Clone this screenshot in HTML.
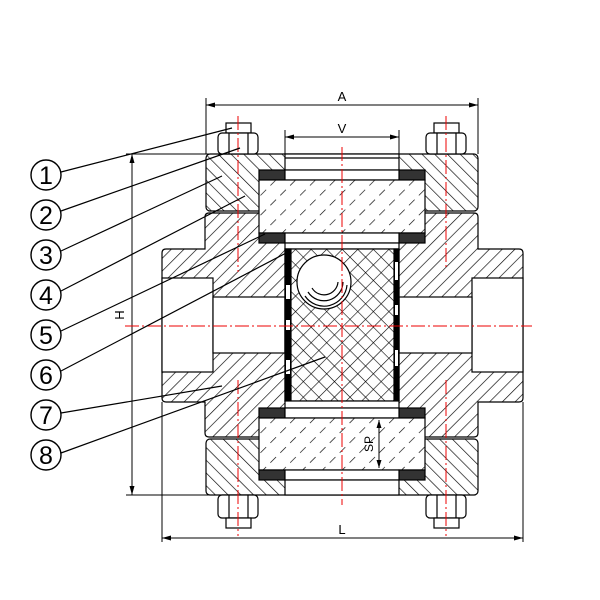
<!DOCTYPE html>
<html><head><meta charset="utf-8"><style>body{margin:0;background:#fff}svg{display:block}</style></head><body>
<svg width="600" height="600" viewBox="0 0 600 600" xmlns="http://www.w3.org/2000/svg" font-family="Liberation Sans, sans-serif">
<defs>
<pattern id="hb" width="9" height="9" patternUnits="userSpaceOnUse" patternTransform="rotate(45)"><rect width="9" height="9" fill="#fff"/><line x1="0" y1="0" x2="0" y2="9" stroke="#000" stroke-width="1.3"/></pattern>
<pattern id="hf" width="9" height="9" patternUnits="userSpaceOnUse" patternTransform="rotate(-45)"><rect width="9" height="9" fill="#fff"/><line x1="0" y1="0" x2="0" y2="9" stroke="#000" stroke-width="1.3"/></pattern>
<pattern id="hx" width="11" height="11" patternUnits="userSpaceOnUse" patternTransform="rotate(45)"><rect width="11" height="11" fill="#fff"/><line x1="0" y1="0" x2="0" y2="11" stroke="#000" stroke-width="1.2"/><line x1="0" y1="0" x2="11" y2="0" stroke="#000" stroke-width="1.2"/></pattern>
<pattern id="hg" width="14" height="14" patternUnits="userSpaceOnUse" patternTransform="rotate(45)"><rect width="14" height="14" fill="#fff"/><line x1="0" y1="2" x2="0" y2="10" stroke="#000" stroke-width="1.3"/></pattern>
</defs>
<g stroke="#000" stroke-width="1.2">
<!-- body -->
<path d="M209,213 H474 Q478,213 478,217 V249 H519 Q523,249 523,253 V398 Q523,402 519,402 H478 V433 Q478,437 474,437 H209 Q205,437 205,433 V402 H166 Q162,402 162,398 V253 Q162,249 166,249 H205 V217 Q205,213 209,213 Z" fill="url(#hb)"/>
<!-- bores -->
<rect x="162" y="278" width="51" height="94" fill="#fff"/>
<rect x="213" y="297" width="72" height="56" fill="#fff"/>
<rect x="472" y="278" width="51" height="94" fill="#fff"/>
<rect x="399" y="297" width="73" height="56" fill="#fff"/>
<!-- flanges -->
<rect x="206" y="154" width="272" height="57" rx="4" fill="url(#hf)"/>
<rect x="206" y="439" width="272" height="56" rx="4" fill="url(#hf)"/>
<!-- top glass assembly -->
<rect x="285" y="154" width="114" height="16" fill="#fff"/>
<line x1="285" y1="158" x2="399" y2="158"/>
<rect x="259" y="170" width="26" height="10" fill="#333"/>
<rect x="399" y="170" width="26" height="10" fill="#333"/>
<rect x="285" y="170" width="114" height="10" fill="#fff"/>
<rect x="259" y="180" width="166" height="53" fill="url(#hg)"/>
<rect x="259" y="233" width="26" height="10" fill="#333"/>
<rect x="399" y="233" width="26" height="10" fill="#333"/>
<rect x="285" y="233" width="114" height="10" fill="#fff"/>
<rect x="285" y="243" width="114" height="6" fill="#fff"/>
<!-- chamber -->
<rect x="285" y="249" width="114" height="152" fill="url(#hx)"/>
<rect x="285" y="249" width="6" height="152" fill="#000"/>
<rect x="394" y="249" width="5" height="152" fill="#000"/>
<g fill="#fff" stroke="none"><rect x="286" y="285" width="4" height="14"/><rect x="286" y="320" width="4" height="10"/><rect x="286" y="360" width="4" height="14"/><rect x="395" y="262" width="3" height="18"/><rect x="395" y="305" width="3" height="10"/><rect x="395" y="350" width="3" height="16"/></g>
<circle cx="324" cy="282" r="27" fill="#fff"/>
<path d="M338,282 A14,14 0 0 1 312,288" fill="none"/>
<path d="M343,282 A19,19 0 0 1 308,292" fill="none"/>
<path d="M347,285 A23,23 0 0 1 305,296" fill="none"/>
<!-- bottom glass assembly -->
<rect x="285" y="401" width="114" height="7" fill="#fff"/>
<rect x="259" y="408" width="26" height="10" fill="#333"/>
<rect x="399" y="408" width="26" height="10" fill="#333"/>
<rect x="285" y="408" width="114" height="10" fill="#fff"/>
<rect x="259" y="418" width="166" height="52" fill="url(#hg)"/>
<rect x="259" y="470" width="26" height="10" fill="#333"/>
<rect x="399" y="470" width="26" height="10" fill="#333"/>
<rect x="285" y="470" width="114" height="10" fill="#fff"/>
<rect x="285" y="480" width="114" height="15" fill="#fff"/>
<!-- nuts -->
<g fill="#fff">
<rect x="226" y="123" width="25" height="10"/><rect x="218" y="133" width="40" height="21" rx="4"/><line x1="229" y1="133" x2="229" y2="154"/><line x1="248" y1="133" x2="248" y2="154"/>
<rect x="434" y="123" width="25" height="10"/><rect x="426" y="133" width="40" height="21" rx="4"/><line x1="437" y1="133" x2="437" y2="154"/><line x1="456" y1="133" x2="456" y2="154"/>
<rect x="218" y="495" width="40" height="23" rx="4"/><rect x="226" y="518" width="25" height="10"/><line x1="229" y1="495" x2="229" y2="518"/><line x1="248" y1="495" x2="248" y2="518"/>
<rect x="426" y="495" width="40" height="23" rx="4"/><rect x="434" y="518" width="25" height="10"/><line x1="437" y1="495" x2="437" y2="518"/><line x1="456" y1="495" x2="456" y2="518"/>
</g>
</g>
<!-- dimensions -->
<g stroke="#000" stroke-width="1" fill="none">
<line x1="206" y1="98" x2="206" y2="154"/><line x1="478" y1="98" x2="478" y2="154"/><line x1="206" y1="105" x2="478" y2="105"/>
<line x1="285" y1="130" x2="285" y2="154"/><line x1="399" y1="130" x2="399" y2="154"/><line x1="285" y1="137" x2="399" y2="137"/>
<line x1="162" y1="402" x2="162" y2="542"/><line x1="523" y1="402" x2="523" y2="542"/><line x1="162" y1="538" x2="523" y2="538"/>
<line x1="126" y1="154" x2="218" y2="154"/><line x1="126" y1="495" x2="218" y2="495"/><line x1="132" y1="154" x2="132" y2="495"/>
<line x1="379" y1="420" x2="379" y2="468"/>
</g>
<g fill="#000">
<path d="M206,105 l9,-2.5 v5z"/><path d="M478,105 l-9,-2.5 v5z"/>
<path d="M285,137 l9,-2.5 v5z"/><path d="M399,137 l-9,-2.5 v5z"/>
<path d="M162,538 l9,-2.5 v5z"/><path d="M523,538 l-9,-2.5 v5z"/>
<path d="M132,154 l-2.5,9 h5z"/><path d="M132,495 l-2.5,-9 h5z"/>
<path d="M379,420 l-2.5,8 h5z"/><path d="M379,468 l-2.5,-8 h5z"/>
</g>
<g font-size="13" text-anchor="middle">
<text x="342" y="101">A</text><text x="342" y="133">V</text><text x="342" y="534">L</text>
<text transform="translate(124,315) rotate(-90)">H</text>
<text transform="translate(373,444) rotate(-90)" font-size="12">SP</text>
</g>
<!-- centerlines -->
<g stroke="#e00" stroke-width="1" stroke-dasharray="14,3,2,3" fill="none">
<line x1="342" y1="147" x2="342" y2="505"/>
<line x1="125" y1="326" x2="532" y2="326"/>
<line x1="238" y1="116" x2="238" y2="272"/><line x1="446" y1="116" x2="446" y2="270"/>
<line x1="238" y1="380" x2="238" y2="536"/><line x1="446" y1="380" x2="446" y2="536"/>
</g>
<!-- leaders & balloons -->
<g stroke="#000" stroke-width="1.2" fill="none">
<line x1="61" y1="172" x2="232" y2="128"/>
<line x1="61" y1="211" x2="240" y2="148"/>
<line x1="61" y1="251" x2="222" y2="176"/>
<line x1="61" y1="291" x2="245" y2="196"/>
<line x1="61" y1="331" x2="265" y2="234"/>
<line x1="61" y1="371" x2="288" y2="252"/>
<line x1="61" y1="413" x2="222" y2="386"/>
<line x1="61" y1="453" x2="325" y2="357"/>
<g fill="#fff" stroke-width="1.4">
<circle cx="46" cy="175" r="15"/><circle cx="46" cy="215" r="15"/><circle cx="46" cy="255" r="15"/><circle cx="46" cy="295" r="15"/><circle cx="46" cy="335" r="15"/><circle cx="46" cy="375" r="15"/><circle cx="46" cy="415" r="15"/><circle cx="46" cy="455" r="15"/>
</g>
</g>
<g font-size="25" text-anchor="middle" fill="#000">
<text x="46" y="184">1</text><text x="46" y="224">2</text><text x="46" y="264">3</text><text x="46" y="304">4</text><text x="46" y="344">5</text><text x="46" y="384">6</text><text x="46" y="424">7</text><text x="46" y="464">8</text>
</g>
</svg>
</body></html>
